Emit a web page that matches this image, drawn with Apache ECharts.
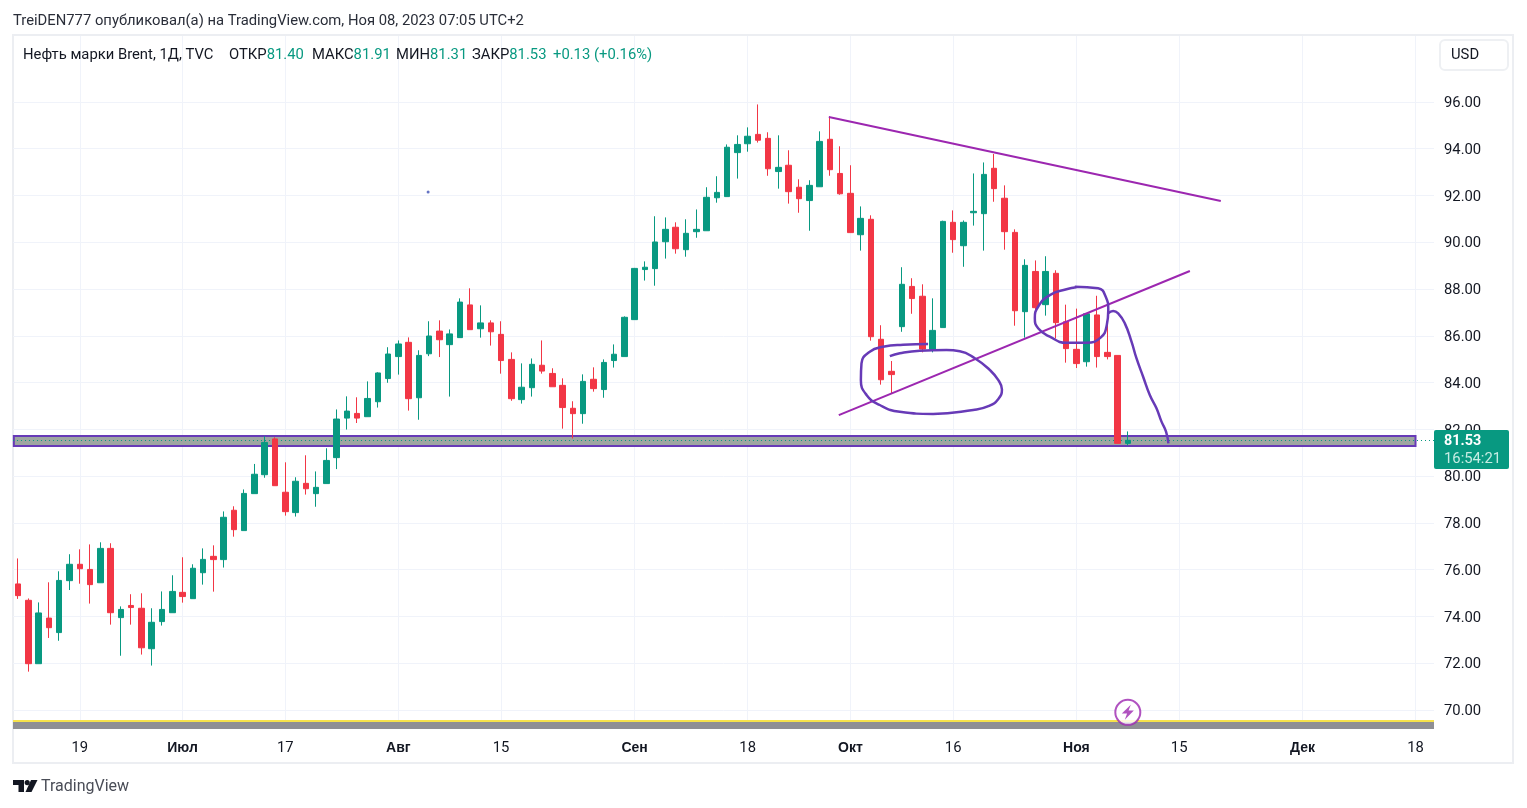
<!DOCTYPE html>
<html><head><meta charset="utf-8">
<style>html,body{margin:0;padding:0;background:#fff}#c{width:1527px;height:808px}</style>
<script src="https://cdn.jsdelivr.net/npm/echarts@6/dist/echarts.min.js"></script>
</head><body><div id="c"></div>
<script>
const tickBars = [6,16,26,37,47,60,71,81,91,103,113,125,136];
const tickLabels = ['19','Июл','17','Авг','15','Сен','18','Окт','16','Ноя','15','Дек','18'];
const monthLabels = ['Июл','Авг','Сен','Окт','Ноя','Дек'];
const priceTicks = [70,72,74,76,78,80,82,84,86,88,90,92,94,96];

const opens = [75.39,74.69,71.98,73.93,73.31,75.53,76.23,76.01,75.44,76.91,73.95,74.47,74.35,72.62,73.78,74.16,75.03,74.76,75.87,76.57,
76.43,78.54,77.67,79.25,80.06,81.59,79.31,78.44,79.69,79.25,79.68,80.79,82.48,82.68,82.54,83.18,84.17,85.11,85.72,83.35,
85.23,86.20,85.62,85.92,87.32,86.30,86.55,86.06,84.99,83.27,83.78,84.74,84.39,83.88,82.90,82.67,84.14,83.70,84.94,85.11,
86.69,88.83,88.87,90.02,90.64,89.68,90.45,90.49,91.90,91.95,93.83,94.21,94.61,94.44,93.02,93.29,92.35,91.78,92.37,94.40,
92.94,92.09,90.32,90.98,85.85,84.48,86.39,88.11,87.69,85.42,86.35,90.85,89.85,91.26,91.22,93.16,91.88,90.42,87.03,88.75,
87.33,88.67,86.60,85.42,84.89,86.89,85.29,85.16,81.40];
const highs = [76.48,74.77,74.60,75.46,75.93,76.66,76.87,77.08,77.17,77.13,74.43,74.95,74.99,74.35,75.07,75.76,76.53,76.23,76.91,77.04,
78.49,78.71,79.43,80.52,81.71,81.66,80.59,79.95,80.89,80.20,81.19,82.85,83.41,83.37,84.05,84.44,85.51,85.80,85.93,85.38,
86.62,86.66,86.27,87.60,88.03,87.30,86.66,86.62,85.29,84.82,85.03,85.80,84.61,84.18,83.20,84.35,84.65,84.99,85.63,86.83,
88.90,89.18,91.11,91.06,90.85,90.98,91.40,92.35,92.82,94.18,94.57,94.91,95.89,94.70,94.57,93.93,92.69,92.65,94.74,95.37,
94.10,93.29,91.53,91.15,86.45,84.92,88.93,88.46,88.20,87.60,90.92,91.36,90.93,92.94,93.41,93.77,92.43,90.55,89.27,89.22,
89.40,88.80,87.33,87.16,86.94,87.71,87.03,85.16,81.91];
const lows = [74.75,71.64,71.98,73.08,72.96,75.13,75.40,74.55,75.44,73.65,72.32,73.65,72.37,71.90,73.61,74.16,74.59,74.76,75.36,75.06,
76.09,77.41,77.67,79.25,79.93,79.59,78.31,78.27,79.21,78.69,79.68,80.30,81.99,82.27,82.54,82.93,83.99,84.34,82.80,82.41,
85.13,85.09,83.40,85.92,86.26,85.92,85.58,84.38,83.22,83.10,83.40,84.38,83.82,82.03,81.61,82.24,83.61,83.35,84.64,85.11,
86.69,88.36,88.14,89.30,89.51,89.38,90.19,90.49,91.69,91.95,92.72,93.87,94.26,92.84,92.29,91.65,91.26,90.49,92.37,92.84,
92.03,90.41,89.64,85.79,83.91,83.54,86.17,86.94,85.29,85.29,86.35,89.55,88.95,90.71,89.64,91.73,89.68,86.43,85.92,86.82,
86.86,85.88,84.85,84.62,84.68,84.64,84.99,81.39,81.31];
const closes = [74.89,71.98,74.15,73.52,75.54,76.23,76.04,75.36,76.91,74.16,74.30,74.38,72.66,73.75,74.30,75.07,74.85,76.06,76.44,76.43,
78.24,77.71,79.26,80.08,81.44,79.59,78.48,79.78,79.46,79.52,80.67,82.44,82.78,82.48,83.32,84.41,85.22,85.65,83.31,85.16,
85.99,85.83,86.08,87.44,86.26,86.55,86.17,84.94,83.31,83.80,84.78,84.49,83.82,82.93,82.67,84.05,83.74,84.86,85.21,86.79,
88.88,88.93,90.01,90.55,89.72,90.38,90.55,91.92,92.13,94.06,94.18,94.53,94.36,93.14,93.20,92.16,91.86,92.43,94.31,93.10,
92.07,90.41,91.02,85.96,84.12,84.34,88.20,87.59,85.43,86.23,90.89,90.11,90.85,91.32,92.90,92.29,90.45,87.07,89.01,87.20,
88.75,86.56,85.45,84.81,86.94,85.11,85.11,81.40,81.53];

const lastClose = 81.53;
const priceMin = 69.188, priceMax = 98.816, barMin = -0.5, barMax = 137.8;
const bandLow = 81.29, bandHigh = 81.71, bandStart = -0.42, bandEnd = 136;
const greyBarTop = 69.49, yellowTop = 69.575;

const resistance = [[78.9,95.35],[117.05,91.76]];
const support = [[79.87,82.61],[114.04,88.77]];
const circleOct = [[84.84,85.13],[85.81,85.25],[87.76,85.36],[90.35,85.39],[91.65,85.34],[93.11,85.04],[94.57,84.54],[95.4,84.1],[95.75,83.7],[95.4,83.3],[94.5,83.0],[92.95,82.83],[89.05,82.66],[85.81,82.75],[83.86,83.04],[82.57,83.47],[82.02,84.11],[82.08,84.82],[82.89,85.32],[84.18,85.53],[86.13,85.62],[88.56,85.65]];
const circleNov = [[102.84,88.10],[105.11,88.03],[105.85,87.67],[106.1,87.10],[105.95,86.45],[105.35,85.92],[103.98,85.70],[102.03,85.70],[100.41,85.96],[99.27,86.32],[98.95,86.75],[99.27,87.24],[100.41,87.74],[102.03,87.99],[103.0,88.07]];
const forecast = [[106.08,86.96],[106.57,87.06],[107.06,86.96],[107.71,86.53],[108.36,85.75],[108.84,85.04],[109.49,84.25],[110.14,83.47],[110.79,82.90],[111.28,82.33],[111.72,81.90],[111.95,81.40]];
const strayDot = [[39.9,92.15]];
const newsMark = [[108,69.9]];

const UP = '#089981', DOWN = '#F23645', INK = '#131722', GRID = '#f0f3fa', PEN = '#673ab7', TREND = '#9c27b0';
const FONT = 'Roboto, sans-serif';

const candles = opens.map((o,i)=>[i,o,closes[i],lows[i],highs[i]]);
const trendSeries = (d)=>({type:'line',data:d,showSymbol:false,symbol:'none',silent:true,z:4,lineStyle:{color:TREND,width:2},animation:false});
const penSeries = (d)=>({type:'line',data:d,showSymbol:false,symbol:'none',smooth:0.5,silent:true,z:4,lineStyle:{color:PEN,width:2.5},animation:false});
const legendPart = (x,k,v)=>({type:'text',z:30,x:x,y:48,style:{text:'{k|'+k+'}{v|'+v+'}',
  rich:{k:{fontFamily:FONT,fontSize:14.8,fill:INK},v:{fontFamily:FONT,fontSize:14.8,fill:UP}}}});

const chart = echarts.init(document.getElementById('c'),null,{renderer:'canvas'});
chart.setOption({
  animation:false,
  backgroundColor:'#fff',
  grid:{left:13,top:36,width:1421,height:693,containLabel:false},
  xAxis:{type:'value',min:barMin,max:barMax,
    axisLine:{show:false},
    axisTick:{show:false,customValues:tickBars},
    splitLine:{show:true,lineStyle:{color:GRID,width:1}},
    axisLabel:{customValues:tickBars,margin:12,
      formatter:(v)=>{const t=tickLabels[tickBars.indexOf(v)];return monthLabels.includes(t)?'{b|'+t+'}':'{n|'+t+'}';},
      rich:{b:{fontFamily:'Liberation Sans, Arial, sans-serif',fontWeight:'bold',fontSize:14,color:INK},n:{fontFamily:FONT,fontSize:14.8,color:INK}}}},
  yAxis:{type:'value',position:'right',min:priceMin,max:priceMax,
    axisLine:{show:false},
    axisTick:{show:false,customValues:priceTicks},
    splitLine:{show:true,lineStyle:{color:GRID,width:1}},
    axisLabel:{customValues:priceTicks,margin:10,formatter:(v)=>'{p|'+v.toFixed(2)+'}',
      rich:{p:{fontFamily:FONT,fontSize:14.8,color:INK,padding:[3,0,0,0]}}}},
  series:[
    {type:'candlestick',data:candles,encode:{x:0,y:[1,2,3,4]},barWidth:6,z:3,silent:true,clip:true,
      itemStyle:{color:UP,color0:DOWN,borderColor:UP,borderColor0:DOWN,borderWidth:1},
      markArea:{silent:true,z:1,data:[
        [{xAxis:bandStart,yAxis:bandLow,itemStyle:{color:'#9ea6a1',borderColor:PEN,borderWidth:2}},{xAxis:bandEnd,yAxis:bandHigh}],
        [{xAxis:barMin,yAxis:priceMin,itemStyle:{color:'#8f8f94',borderWidth:0}},{xAxis:barMax,yAxis:greyBarTop}],
        [{xAxis:barMin,yAxis:greyBarTop,itemStyle:{color:'#f7e24b',borderWidth:0}},{xAxis:barMax,yAxis:yellowTop}]
      ]},
      markLine:{silent:true,symbol:'none',label:{show:false},z:2,
        lineStyle:{color:UP,type:[1,3],width:1},data:[{yAxis:lastClose}]}},
    trendSeries(resistance),trendSeries(support),
    penSeries(circleOct),penSeries(circleNov),penSeries(forecast),
    {type:'scatter',data:strayDot,symbolSize:3,silent:true,z:4,itemStyle:{color:'#3f51b5'}},
    {type:'scatter',data:newsMark,symbol:'circle',symbolSize:25,silent:true,z:5,
      itemStyle:{color:'#fff',borderColor:TREND,borderWidth:2,shadowBlur:0}},
    {type:'scatter',data:newsMark,symbol:'path://M7 0 L1 7 L4.5 7 L3 12 L9 4.6 L5.5 4.6 Z',symbolSize:[12,15],silent:true,z:6,itemStyle:{color:TREND}}
  ],
  graphic:[
    {type:'rect',z:-1,shape:{x:13,y:35,width:1500,height:728},style:{fill:'none',stroke:'#eceef2',lineWidth:2}},
    {type:'text',z:30,x:13,y:14,style:{text:'TreiDEN777 опубликовал(а) на TradingView.com, Ноя 08, 2023 07:05 UTC+2',fontFamily:FONT,fontSize:14.8,fill:'#2a2e39'}},
    legendPart(23,'Нефть марки Brent, 1Д, TVC',''),
    legendPart(229,'ОТКР','81.40'),
    legendPart(312,'МАКС','81.91'),
    legendPart(396,'МИН','81.31'),
    legendPart(472,'ЗАКР','81.53'),
    legendPart(553,'','+0.13 (+0.16%)'),
    {type:'rect',z:30,shape:{x:1440,y:40,width:68,height:30,r:5},style:{fill:'#fff',stroke:'#eef0f3',lineWidth:2}},
    {type:'text',z:31,x:1451,y:48,style:{text:'USD',fontFamily:FONT,fontSize:14.8,fill:INK}},
    {type:'rect',z:20,shape:{x:1434,y:430,width:75,height:39,r:2},style:{fill:UP}},
    {type:'text',z:21,x:1444,y:434,style:{text:lastClose.toFixed(2),fontFamily:FONT,fontSize:14.4,fontWeight:'bold',fill:'#fff'}},
    {type:'text',z:21,x:1444,y:452,style:{text:'16:54:21',fontFamily:FONT,fontSize:14.8,fill:'#c6ece3'}},
    {type:'polygon',shape:{points:[[13,780],[24,780],[24,792],[18.5,792],[18.5,785],[13,785]]},style:{fill:INK}},
    {type:'polygon',shape:{points:[[31,780],[37.5,780],[31.5,792],[25.5,792]]},style:{fill:INK}},
    {type:'circle',shape:{cx:27.2,cy:782.6,r:2.6},style:{fill:INK}},
    {type:'text',x:41,y:779,style:{text:'TradingView',fontFamily:FONT,fontSize:16,fill:'#4a4d57'}}
  ]
});
</script></body></html>
